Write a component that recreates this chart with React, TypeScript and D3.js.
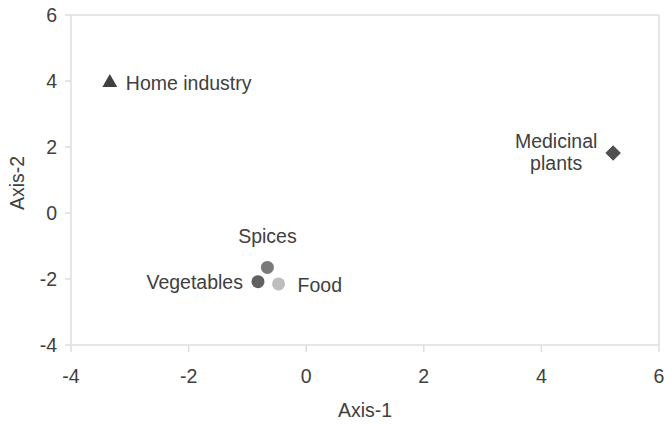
import React from "react";
import * as d3 from "d3";

const categories = ["Home industry", "Medicinal plants", "Spices", "Vegetables", "Food"];
const axis1Values = [-3.34, 5.22, -0.66, -0.82, -0.47];
const axis2Values = [3.95, 1.82, -1.65, -2.08, -2.15];
const xTicks = [-4, -2, 0, 2, 4, 6];
const yTicks = [-4, -2, 0, 2, 4, 6];

const markerShapes = ["triangle", "diamond", "circle", "circle", "circle"];
const markerColors = ["#404040", "#4f4f4f", "#7a7a7a", "#606060", "#bdbdbd"];

const W = 664;
const H = 424;
const margin = { left: 71, right: 5, top: 15, bottom: 79 };
const FONT = "'Liberation Sans', Arial, sans-serif";
const TEXT = "#404040";
const LINE = "#dedede";
const FS = 19.5;

// label placement (dx, dy, anchor) per category
const labelPlacement: Record<string, { dx: number; dy: number; anchor: string; lines?: string[] }> = {
  "Home industry": { dx: 16, dy: 7, anchor: "start" },
  "Medicinal plants": { dx: -57, dy: -5, anchor: "middle", lines: ["Medicinal", "plants"] },
  Spices: { dx: 0, dy: -24, anchor: "middle" },
  Vegetables: { dx: -15, dy: 7, anchor: "end" },
  Food: { dx: 19, dy: 8, anchor: "start" },
};

export default function App() {
  const x = d3.scaleLinear().domain([-4, 6]).range([margin.left, W - margin.right]);
  const y = d3.scaleLinear().domain([-4, 6]).range([H - margin.bottom, margin.top]);
  const x0 = x.range()[0];
  const x1 = x.range()[1];
  const y0 = y.range()[0];
  const y1 = y.range()[1];

  const tri = d3.symbol().type(d3.symbolTriangle).size(95)()!;
  const sq = d3.symbol().type(d3.symbolSquare).size(120)()!;

  return (
    <svg width={W} height={H} style={{ position: "absolute", left: 0, top: 0 }} fontFamily={FONT}>
      <rect x={0} y={0} width={W} height={H} fill="#fff" />
      {/* frame */}
      <line x1={x0} x2={x1} y1={y1} y2={y1} stroke={LINE} strokeWidth={1.5} />
      <line x1={x1} x2={x1} y1={y1} y2={y0} stroke={LINE} strokeWidth={1.5} />
      <line x1={x0} x2={x1} y1={y0} y2={y0} stroke={LINE} strokeWidth={1.5} />
      <line x1={x0} x2={x0} y1={y1} y2={y0} stroke={LINE} strokeWidth={1.5} />
      {/* y ticks */}
      {yTicks.map((t) => (
        <g key={"y" + t}>
          <line x1={x0 - 6} x2={x0} y1={y(t)} y2={y(t)} stroke={LINE} strokeWidth={1.5} />
          <text x={x0 - 14} y={y(t)} dy="0.35em" textAnchor="end" fontSize={FS} fill={TEXT}>
            {t}
          </text>
        </g>
      ))}
      {/* x ticks */}
      {xTicks.map((t) => (
        <g key={"x" + t}>
          <line x1={x(t)} x2={x(t)} y1={y0} y2={y0 + 7} stroke={LINE} strokeWidth={1.5} />
          <text x={x(t)} y={y0 + 38} textAnchor="middle" fontSize={FS} fill={TEXT}>
            {t}
          </text>
        </g>
      ))}
      <text x={(x0 + x1) / 2} y={417} textAnchor="middle" fontSize={FS} fill={TEXT}>
        Axis-1
      </text>
      <text
        transform={`translate(24, ${(y0 + y1) / 2 + 3}) rotate(-90)`}
        textAnchor="middle"
        fontSize={FS}
        fill={TEXT}
      >
        Axis-2
      </text>
      {/* points */}
      {categories.map((c, i) => {
        const px = x(axis1Values[i]);
        const py = y(axis2Values[i]);
        const shape = markerShapes[i];
        const col = markerColors[i];
        const p = labelPlacement[c];
        let mark;
        if (shape === "triangle") {
          mark = <path d={tri} transform={`translate(${px},${py})`} fill={col} />;
        } else if (shape === "diamond") {
          mark = <path d={sq} transform={`translate(${px},${py}) rotate(45)`} fill={col} />;
        } else {
          mark = <circle cx={px} cy={py} r={6.5} fill={col} />;
        }
        const lines = p.lines || [c];
        return (
          <g key={c}>
            {mark}
            <text x={px + p.dx} y={py + p.dy} textAnchor={p.anchor as any} fontSize={FS} fill={TEXT}>
              {lines.map((l, k) => (
                <tspan key={k} x={px + p.dx} dy={k === 0 ? 0 : 22}>
                  {l}
                </tspan>
              ))}
            </text>
          </g>
        );
      })}
    </svg>
  );
}
